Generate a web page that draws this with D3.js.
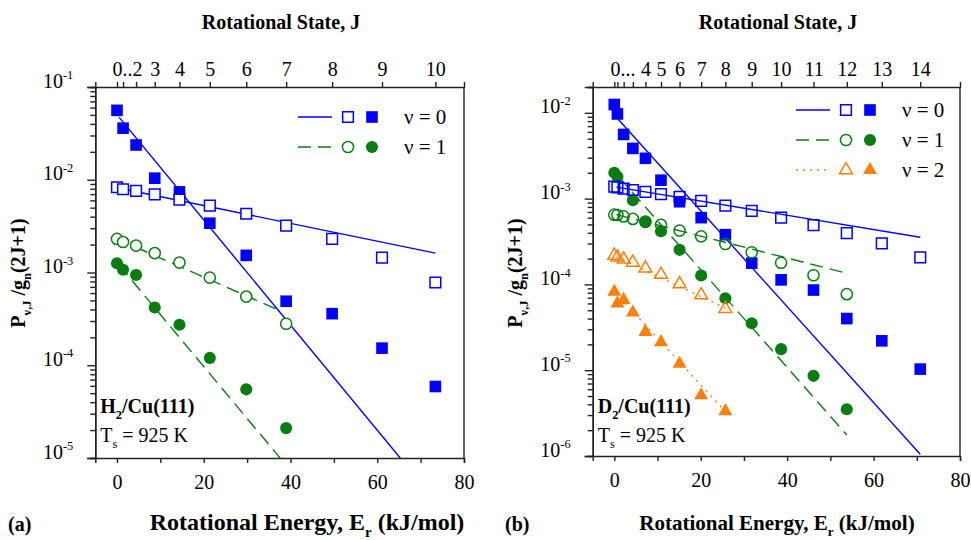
<!DOCTYPE html>
<html>
<head>
<meta charset="utf-8">
<script src="https://cdn.jsdelivr.net/npm/d3@7"></script>
<style>
body { margin: 0; background: #fff; }
svg text { font-family: "Liberation Serif", "Times New Roman", Times, serif !important; fill: #000; }
</style>
</head>
<body>
<svg width="971" height="540"></svg>
<script>
/* ---- data ---- */
// (a) H2/Cu(111): rotational energies of J = 0..10 (kJ/mol)
var h2Energy = [0, 1.4, 4.4, 8.7, 14.4, 21.4, 29.8, 39.0, 49.6, 61.1, 73.4];
var h2OpenV0 = [8.3e-3, 7.9e-3, 7.6e-3, 6.95e-3, 6.1e-3, 5.25e-3, 4.3e-3, 3.2e-3, 2.3e-3, 1.45e-3, 7.8e-4];
var h2FilledV0 = [0.056, 0.036, 0.0237, 0.0104, 7.4e-3, 3.4e-3, 1.53e-3, 4.9e-4, 3.6e-4, 1.53e-4, 5.9e-5];
var h2OpenV1 = [2.3e-3, 2.13e-3, 1.95e-3, 1.62e-3, 1.28e-3, 8.8e-4, 5.5e-4, 2.8e-4];
var h2FilledV1 = [1.26e-3, 1.07e-3, 9.4e-4, 4.2e-4, 2.73e-4, 1.2e-4, 5.5e-5, 2.1e-5];
// fit lines: [E start, P start, E end, P end]
var h2FitOpenV0 = [0, 8.2e-3, 73.4, 1.62e-3];
var h2FitFilledV0 = [0.5, 0.047, 65.3, 1e-5];
var h2FitOpenV1 = [0, 2.3e-3, 38, 3.8e-4];
var h2FitFilledV1 = [0.5, 1.2e-3, 37.6, 1e-5];

// (b) D2/Cu(111): rotational energies of J = 0..14 (kJ/mol)
var d2Energy = [0, 0.72, 2.16, 4.3, 7.2, 10.8, 15.1, 20.1, 25.7, 31.8, 38.6, 46.1, 53.8, 61.9, 70.8];
var d2OpenV0 = [1.38e-3, 1.35e-3, 1.31e-3, 1.26e-3, 1.2e-3, 1.13e-3, 1.05e-3, 9.4e-4, 8.3e-4, 7.2e-4, 6.0e-4, 4.9e-4, 3.95e-4, 3.0e-4, 2.07e-4];
var d2FilledV0 = [0.0125, 9.7e-3, 5.6e-3, 3.85e-3, 2.95e-3, 1.64e-3, 9.2e-4, 6.0e-4, 3.8e-4, 1.77e-4, 1.13e-4, 8.6e-5, 4.0e-5, 2.2e-5, 1.03e-5];
var d2OpenV1 = [6.5e-4, 6.45e-4, 6.2e-4, 5.8e-4, 5.4e-4, 4.95e-4, 4.25e-4, 3.63e-4, 2.96e-4, 2.37e-4, 1.79e-4, 1.28e-4, 7.7e-5];
var d2FilledV1 = [2.0e-3, 1.8e-3, null, 9.6e-4, 5.3e-4, 4.16e-4, 2.53e-4, 1.27e-4, 6.9e-5, 3.53e-5, 1.76e-5, 8.6e-6, 3.5e-6];
var d2OpenV2 = [2.17e-4, 2.07e-4, 1.96e-4, 1.8e-4, 1.54e-4, 1.3e-4, 1.01e-4, 7.5e-5, 5.2e-5];
var d2FilledV2 = [8.2e-5, 6.0e-5, 6.6e-5, 4.7e-5, 2.8e-5, 2.12e-5, 1.19e-5, 5.1e-6, 3.33e-6];
var d2FitOpenV0 = [0.5, 1.36e-3, 70.8, 3.55e-4];
var d2FitFilledV0 = [0.9, 8.4e-3, 70.8, 1.05e-6];
var d2FitOpenV1 = [0.5, 6.5e-4, 53.8, 1.35e-4];
var d2FitFilledV1 = [1, 1.8e-3, 53.8, 1.76e-6];
var d2FitOpenV2 = [0.5, 2.1e-4, 25.7, 5.3e-5];
var d2FitFilledV2 = [0.3, 8.0e-5, 25.7, 3.3e-6];

var energyTicks = [0, 10, 20, 30, 40, 50, 60, 70, 80];
var legendLabels = ["\u03bd = 0", "\u03bd = 1", "\u03bd = 2"];

var blue = "#0000ff", green = "#0a7d12", orange = "#ff7f0e";
var styles = [
    { color: blue, shape: d3.symbolSquare, size: 135, dash: null },
    { color: green, shape: d3.symbolCircle, size: 115, dash: "13,7" },
    { color: orange, shape: d3.symbolTriangle, size: 85, dash: "2,5" }
];

var svg = d3.select("svg");

/* text with sub / superscripts: parts = [[text, "sub"|"sup"|null], ...] */
function richText(sel, parts, size) {
    var shift = 0;
    parts.forEach(function (p) {
        var target = p[1] === "sub" ? 0.28 * size : (p[1] === "sup" ? -0.42 * size : 0);
        var t = sel.append("tspan").text(p[0]).attr("dy", target - shift);
        if (p[1]) t.attr("font-size", size * 0.62);
        shift = target;
    });
}

function drawPanel(cfg, idx) {
    var x = d3.scaleLinear().domain([-5, 80]).range([cfg.left, cfg.right]);
    var y = d3.scaleLog().domain(cfg.yDomain).range([cfg.bottom, cfg.top]);
    var g = svg.append("g");
    var clipId = "clip" + idx;
    svg.append("clipPath").attr("id", clipId).append("rect")
        .attr("x", cfg.left).attr("y", cfg.top)
        .attr("width", cfg.right - cfg.left).attr("height", cfg.bottom - cfg.top);

    // y axis: decades + minor ticks
    var lo = Math.round(Math.log10(cfg.yDomain[0])), hi = Math.floor(Math.log10(cfg.yDomain[1]));
    var major = d3.range(lo, hi + 1).map(function (e) { return Math.pow(10, e); });
    var minor = [];
    major.forEach(function (m) {
        d3.range(2, 10).forEach(function (k) { if (k * m <= cfg.yDomain[1]) minor.push(k * m); });
    });
    g.append("g").attr("class", "ymin")
        .attr("transform", "translate(" + cfg.left + ",0)")
        .call(d3.axisLeft(y).tickValues(minor).tickSize(5).tickFormat(""));
    var ya = g.append("g").attr("class", "ymaj")
        .attr("transform", "translate(" + cfg.left + ",0)")
        .call(d3.axisLeft(y).tickValues(major).tickSize(8).tickPadding(14).tickFormat(""));
    ya.selectAll(".tick text").each(function (d) {
        var t = d3.select(this).attr("dy", "0.32em");
        richText(t, [["10", null], [String(Math.round(Math.log10(d))), "sup"]], 20);
    });

    // bottom axis
    g.append("g")
        .attr("transform", "translate(0," + cfg.bottom + ")")
        .call(d3.axisBottom(x).tickValues(energyTicks).tickSize(5).tickPadding(12)
            .tickFormat(function (d) { return d % 20 === 0 ? d : ""; }));

    // top axis: rotational states
    g.append("g")
        .attr("transform", "translate(0," + cfg.top + ")")
        .call(d3.axisTop(x).tickValues(cfg.energy).tickSize(5).tickPadding(6)
            .tickFormat(function (d, i) { return i >= cfg.firstLabel ? i : ""; }));
    g.append("text").attr("x", x(cfg.lowLabelE)).attr("y", cfg.top - 11)
        .attr("text-anchor", "middle").attr("font-size", 20).text(cfg.lowLabel);

    // right edge
    g.append("line").attr("x1", cfg.right).attr("x2", cfg.right)
        .attr("y1", cfg.top).attr("y2", cfg.bottom);

    g.selectAll(".domain, line").attr("stroke", "#222").attr("stroke-width", 1.4);
    g.selectAll(".tick text").attr("font-size", 20);

    // fit lines
    var line = d3.line().x(function (d) { return x(d[0]); }).y(function (d) { return y(d[1]); });
    cfg.series.forEach(function (s, k) {
        var st = styles[k];
        [s.fitOpen, s.fitFilled].forEach(function (f) {
            svg.append("path")
                .attr("clip-path", "url(#" + clipId + ")")
                .attr("d", line([[f[0], f[1]], [f[2], f[3]]]))
                .attr("fill", "none").attr("stroke", st.color)
                .attr("stroke-width", 1.4)
                .attr("stroke-dasharray", st.dash);
        });
    });

    // markers: filled first, open on top
    cfg.series.forEach(function (s, k) {
        var st = styles[k];
        var sym = d3.symbol().type(st.shape).size(st.size);
        var pts = s.filled.map(function (v, j) { return { e: cfg.energy[j], v: v }; })
            .filter(function (d) { return d.v != null; });
        svg.append("g").selectAll("path").data(pts).enter().append("path")
            .attr("d", sym)
            .attr("transform", function (d) { return "translate(" + x(d.e) + "," + y(d.v) + ")"; })
            .attr("fill", st.color);
    });
    cfg.series.forEach(function (s, k) {
        var st = styles[k];
        var sym = d3.symbol().type(st.shape).size(st.size * 0.85);
        var pts = s.open.map(function (v, j) { return { e: cfg.energy[j], v: v }; });
        svg.append("g").selectAll("path").data(pts).enter().append("path")
            .attr("d", sym)
            .attr("transform", function (d) { return "translate(" + x(d.e) + "," + y(d.v) + ")"; })
            .attr("fill", cfg.openFill).attr("stroke", st.color).attr("stroke-width", 1.5);
    });

    // legend
    cfg.series.forEach(function (s, k) {
        var st = styles[k];
        var ly = cfg.legendY + k * 30;
        var lx = cfg.legendX;
        svg.append("line").attr("x1", lx).attr("x2", lx + 34).attr("y1", ly).attr("y2", ly)
            .attr("stroke", st.color).attr("stroke-width", 1.4).attr("stroke-dasharray", st.dash);
        svg.append("path").attr("d", d3.symbol().type(st.shape).size(st.size * 0.85))
            .attr("transform", "translate(" + (lx + 50) + "," + ly + ")")
            .attr("fill", "none").attr("stroke", st.color).attr("stroke-width", 1.5);
        svg.append("path").attr("d", d3.symbol().type(st.shape).size(st.size))
            .attr("transform", "translate(" + (lx + 74) + "," + ly + ")")
            .attr("fill", st.color);
        svg.append("text").attr("x", lx + 106).attr("y", ly + 7)
            .attr("font-size", 21).text(legendLabels[k]);
    });

    // annotations
    var t1 = svg.append("text").attr("x", cfg.left + 5).attr("y", 413)
        .attr("font-size", 20).attr("font-weight", "bold");
    richText(t1, [[cfg.molecule, null], ["2", "sub"], ["/Cu(111)", null]], 20);
    var t2 = svg.append("text").attr("x", cfg.left + 5).attr("y", 442).attr("font-size", 20);
    richText(t2, [["T", null], ["s", "sub"], [" = 925 K", null]], 20);

    // axis titles
    svg.append("text").attr("x", cfg.topTitleX).attr("y", 29)
        .attr("text-anchor", "middle").attr("font-size", 20).attr("font-weight", "bold")
        .text("Rotational State, J");
    var bt = svg.append("text").attr("x", cfg.bottomTitleX).attr("y", 530)
        .attr("text-anchor", "middle").attr("font-size", cfg.bottomTitleSize).attr("font-weight", "bold");
    richText(bt, [["Rotational Energy, E", null], ["r", "sub"], [" (kJ/mol)", null]], cfg.bottomTitleSize);
    svg.append("text").attr("x", cfg.tagX).attr("y", 531)
        .attr("font-size", 20).attr("font-weight", "bold").text(cfg.tag);
    var yt = svg.append("text")
        .attr("transform", "translate(" + cfg.yTitleX + ",273) rotate(-90)")
        .attr("text-anchor", "middle").attr("font-size", 20).attr("font-weight", "bold");
    richText(yt, [["P", null], ["\u03bd,J", "sub"], [" /g", null], ["n", "sub"], ["(2J+1)", null]], 20);
}

drawPanel({
    left: 95.3, right: 464, top: 87, bottom: 458, yDomain: [1e-5, 1e-1],
    energy: h2Energy, firstLabel: 3, lowLabel: "0..2", lowLabelE: 2.4,
    openFill: "#fff", molecule: "H",
    legendX: 298, legendY: 117,
    topTitleX: 281, bottomTitleX: 307, bottomTitleSize: 24, tagX: 8, tag: "(a)", yTitleX: 25,
    series: [
        { open: h2OpenV0, filled: h2FilledV0, fitOpen: h2FitOpenV0, fitFilled: h2FitFilledV0 },
        { open: h2OpenV1, filled: h2FilledV1, fitOpen: h2FitOpenV1, fitFilled: h2FitFilledV1 }
    ]
}, 0);

drawPanel({
    left: 592.7, right: 960, top: 87, bottom: 456, yDomain: [1e-6, 0.02],
    energy: d2Energy, firstLabel: 4, lowLabel: "0...", lowLabelE: 2.0,
    openFill: "none", molecule: "D",
    legendX: 796, legendY: 110,
    topTitleX: 778, bottomTitleX: 777, bottomTitleSize: 21, tagX: 505, tag: "(b)", yTitleX: 522,
    series: [
        { open: d2OpenV0, filled: d2FilledV0, fitOpen: d2FitOpenV0, fitFilled: d2FitFilledV0 },
        { open: d2OpenV1, filled: d2FilledV1, fitOpen: d2FitOpenV1, fitFilled: d2FitFilledV1 },
        { open: d2OpenV2, filled: d2FilledV2, fitOpen: d2FitOpenV2, fitFilled: d2FitFilledV2 }
    ]
}, 1);
</script>
</body>
</html>
